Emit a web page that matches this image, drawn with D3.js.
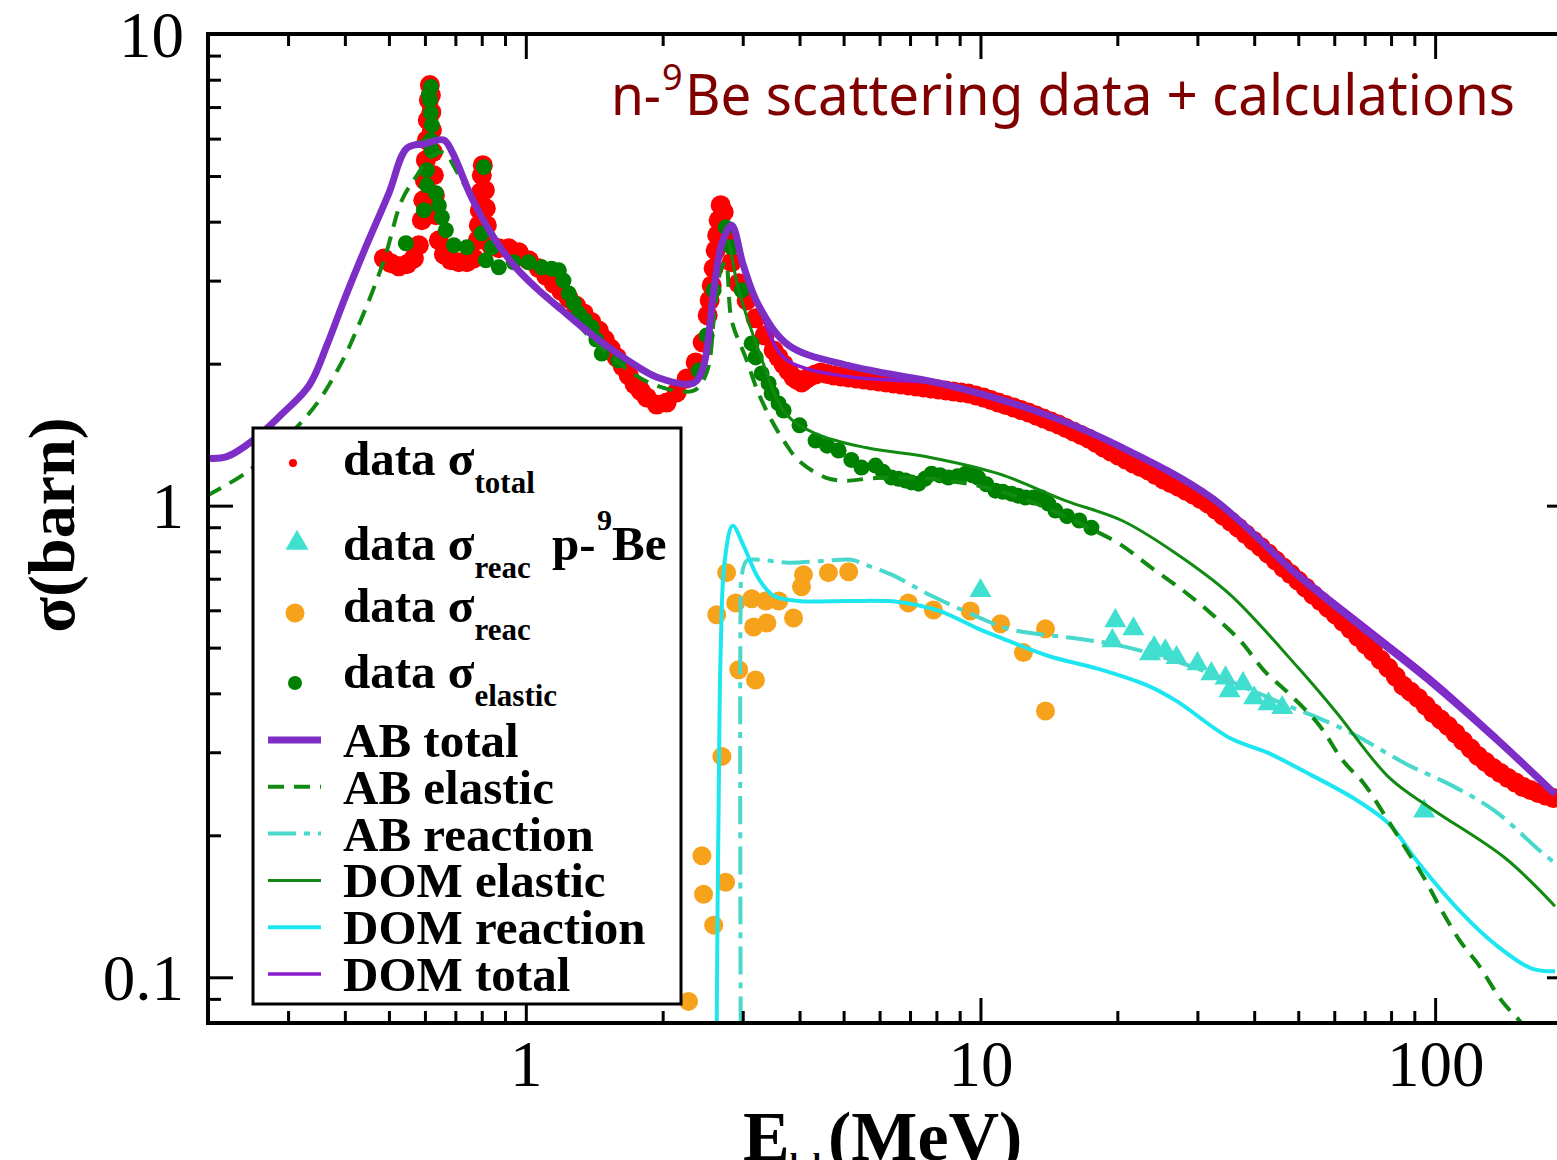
<!DOCTYPE html>
<html>
<head>
<meta charset="utf-8">
<script src="https://d3js.org/d3.v7.min.js"></script>
<style>
body { margin: 0; background: #fff; }
svg { display: block; }
text { font-family: "Liberation Serif", "Times New Roman", serif; }
.axis line { stroke: #000; stroke-width: 3; }
.axis text { font-size: 65px; fill: #000; }
</style>
</head>
<body>
<svg width="1557" height="1160"></svg>
<script>

// ---- data: [E (MeV), sigma (barn)] ----
var dataTotal = [[0.4875,3.344],[0.505,3.265],[0.5258,3.217],[0.5476,3.249],[0.5673,3.344],[0.5818,3.565],
  [0.5907,4.029],[0.5952,4.442],[0.5998,4.898],[0.6029,5.402],[0.6059,5.955],[0.609,6.566],[0.6121,7.242],
  [0.6152,7.795],[0.6183,7.423],[0.62,6.83],[0.6215,6.254],[0.6246,5.618],[0.6278,5.018],[0.631,4.553],
  [0.6342,4.128],[0.6439,3.653],[0.6603,3.411],[0.6841,3.313],[0.7122,3.281],[0.7417,3.281],[0.7686,3.344],
  [0.7843,3.653],[0.7883,3.93],[0.7923,4.23],[0.7963,4.619],[0.8003,5.018],[0.8044,5.272],[0.8126,4.665],
  [0.8167,4.272],[0.8209,3.93],[0.8378,3.565],[0.8724,3.513],[0.9176,3.513],[0.9652,3.445],[1.015,3.313],
  [1.068,3.186],[1.109,3.071],[1.152,2.96],[1.197,2.854],[1.243,2.751],[1.291,2.652],[1.341,2.556],
  [1.393,2.452],[1.447,2.352],[1.491,2.251],[1.537,2.154],[1.585,2.062],[1.634,1.973],[1.684,1.888],
  [1.736,1.807],[1.79,1.751],[1.845,1.696],[1.941,1.638],[2.041,1.654],[2.147,1.738],[2.259,1.86],[2.364,2.012],
  [2.449,2.218],[2.512,2.532],[2.537,2.724],[2.564,2.931],[2.589,3.186],[2.616,3.478],[2.636,3.743],
  [2.656,4.029],[2.683,4.336],[2.724,4.19],[2.765,3.743],[2.836,3.281],[2.938,2.96],[3.06,2.724],
  [3.203,2.495],[3.352,2.296],[3.509,2.133],[3.598,2.062],[3.69,1.993],[3.785,1.93],[3.882,1.869],
  [3.962,1.846],[4.043,1.824],[4.126,1.851],[4.21,1.878],[4.329,1.896],[4.451,1.915],[4.599,1.901],
  [4.753,1.888],[4.937,1.878],[5.128,1.869],[5.327,1.86],[5.533,1.851],[5.747,1.842],[5.969,1.834],
  [6.2,1.825],[6.439,1.816],[6.688,1.807],[6.947,1.798],[7.215,1.789],[7.494,1.781],[7.783,1.772],
  [8.084,1.763],[8.397,1.754],[8.723,1.746],[9.06,1.737],[9.41,1.729],[9.773,1.712],[10.15,1.696],
  [10.54,1.675],[10.95,1.654],[11.38,1.634],[11.82,1.615],[12.28,1.595],[12.75,1.576],[13.25,1.553],
  [13.76,1.53],[14.29,1.508],[14.84,1.486],[15.41,1.461],[16.01,1.436],[16.63,1.412],[17.28,1.388],
  [17.95,1.358],[18.64,1.328],[19.36,1.302],[20.11,1.277],[20.89,1.252],[21.7,1.228],[22.53,1.207],
  [23.4,1.187],[24.31,1.161],[25.25,1.136],[26.23,1.116],[27.24,1.097],[28.29,1.076],[29.39,1.055],
  [30.52,1.032],[31.7,1.01],[32.93,0.981],[34.2,0.952],[35.52,0.925],[36.9,0.898],[38.33,0.87],
  [39.81,0.843],[41.35,0.817],[42.95,0.791],[44.61,0.765],[46.34,0.739],[48.14,0.716],[50.0,0.693],
  [51.93,0.67],[53.94,0.647],[56.03,0.627],[58.2,0.607],[60.45,0.587],[62.79,0.567],[65.22,0.547],
  [67.74,0.527],[70.36,0.508],[73.08,0.49],[75.91,0.471],[78.85,0.453],[81.9,0.434],[85.06,0.415],
  [88.35,0.403],[91.77,0.391],[95.32,0.377],[99.0,0.363],[102.8,0.352],[106.8,0.341],[110.9,0.329],
  [115.2,0.317],[119.7,0.3055],[124.3,0.2945],[129.1,0.286],[134.1,0.2778],[139.3,0.271],[144.7,0.2645],
  [150.3,0.2587],[156.1,0.2531],[162.1,0.2495],[168.4,0.2459],[174.9,0.2429],[181.7,0.2399]];

var dataElastic = [[0.5448,3.6],[0.5968,4.23],[0.6059,4.776],[0.6059,5.143],[0.6183,5.955],[0.6183,6.797],
  [0.6183,7.719],[0.6121,7.423],[0.6152,7.242],[0.6215,6.409],[0.6215,5.66],[0.6342,4.597],[0.6439,4.33],
  [0.6537,4.088],[0.6671,3.836],[0.6948,3.565],[0.7417,3.53],[0.8003,3.78],[0.8085,5.219],[0.8167,3.313],
  [0.8418,3.53],[0.8724,3.201],[0.941,3.281],[1.015,3.281],[1.084,3.201],[1.14,3.18],[1.182,3.155],
  [1.21,3.0],[1.243,2.818],[1.275,2.69],[1.308,2.556],[1.35,2.47],[1.397,2.387],[1.43,2.25],[1.469,2.102],
  [1.6,2.032],[2.4,1.934],[2.499,2.296],[2.589,2.861],
  [2.751,3.892],[2.836,3.53],[2.984,2.861],[3.139,2.208],[3.203,2.062],[3.301,1.907],[3.42,1.816],
  [3.473,1.729],[3.597,1.647],[3.69,1.591],[4.0,1.48],[4.339,1.374],[4.6,1.34],[4.875,1.309],[5.2,1.25],
  [5.475,1.204],[5.877,1.216],[6.1,1.18],[6.374,1.147],[6.6,1.14],[6.842,1.13],[7.05,1.12],[7.307,1.113],
  [7.55,1.14],[7.804,1.169],[8.15,1.16],[8.5,1.147],[8.9,1.155],[9.27,1.169],[9.6,1.16],[9.88,1.147],
  [10.3,1.11],[10.79,1.076],[11.2,1.07],[11.7,1.06],[12.1,1.05],[12.56,1.04],[13.1,1.04],[13.62,1.04],
  [14.1,1.01],[14.62,0.976],[15.5,0.95],[16.5,0.93],[17.54,0.898]];

var dataReac = [[2.765,0.721],[2.63,0.587],[2.894,0.622],[3.14,0.635],[3.37,0.628],[3.6,0.628],[3.17,0.553],
  [3.39,0.564],[3.88,0.578],[4.08,0.714],[4.04,0.673],[4.63,0.721],[5.13,0.724],[2.94,0.449],[3.2,0.427],
  [2.7,0.294],[2.44,0.181],[2.75,0.159],[2.46,0.15],[2.59,0.129],[2.28,0.0889],[6.94,0.622],[7.88,0.601],
  [9.5,0.598],[11.07,0.562],[12.43,0.488],[13.9,0.548],[13.9,0.367]];

var dataReacP = [[10.0,0.66],[19.8,0.57],[21.7,0.548],[19.5,0.517],[24.1,0.4995],[23.6,0.485],[25.5,0.492],
  [27.0,0.476],[30.0,0.462],[32.2,0.44],[34.6,0.431],[35.3,0.405],[37.8,0.419],[40.0,0.391],[43.0,0.38],
  [46.1,0.373],[94.6,0.225]];

var abTotal = [[0.2,1.26],[0.22,1.27],[0.25,1.37],[0.29,1.56],[0.334,1.80],[0.366,2.2],[0.398,2.72],
  [0.44,3.45],[0.5,4.6],[0.548,5.73],[0.6,5.85],[0.66,5.96],[0.69,5.6],[0.76,4.5],[0.85,3.7],[0.95,3.2],
  [1.06,2.88],[1.2,2.6],[1.4,2.3],[1.68,2.03],[1.95,1.87],[2.34,1.82],[2.46,1.98],[2.59,2.86],[2.70,3.6],
  [2.836,3.93],[3.01,3.23],[3.25,2.66],[3.78,2.19],[5.13,1.98],[8.5,1.80],[14.1,1.553],[20.1,1.34],
  [32.2,1.04],[50.0,0.71],[70.2,0.545],[98.0,0.422],[137.5,0.317],[183.5,0.2446]];

var domTotal = [[0.2,1.26],[0.22,1.27],[0.25,1.37],[0.29,1.56],[0.334,1.80],[0.366,2.2],[0.398,2.72],
  [0.44,3.45],[0.5,4.6],[0.548,5.73],[0.6,5.85],[0.66,5.96],[0.69,5.6],[0.76,4.5],[0.85,3.7],[0.95,3.2],
  [1.06,2.88],[1.2,2.6],[1.4,2.3],[1.68,2.03],[1.95,1.87],[2.34,1.82],[2.46,1.98],[2.59,2.86],[2.70,3.6],
  [2.836,3.93],[3.01,3.23],[3.25,2.66],[3.653,2.082],[4.125,1.954],[5.31,1.869],[8.5,1.80],[14.1,1.553],
  [20.1,1.34],[32.2,1.045],[50.0,0.72],[70.2,0.556],[98.0,0.431],[137.5,0.322],[183.5,0.2475]];

var abElastic = [[0.199,1.05],[0.2461,1.187],[0.3336,1.568],[0.3882,1.963],[0.4362,2.507],[0.4875,3.313],
  [0.5339,4.442],[0.573,4.97],[0.62,5.5],[0.66,5.6],[0.7122,5.018],[0.7883,4.23],[0.8945,3.478],[1.0,3.034],
  [1.182,2.658],[1.447,2.186],[1.864,1.824],[2.34,1.754],[2.499,1.915],[2.603,2.594],[2.683,3.155],
  [2.751,3.281],[2.836,2.471],[3.044,2.062],[3.252,1.729],[3.473,1.515],[3.728,1.354],[3.981,1.246],
  [4.563,1.147],[5.05,1.13],[5.673,1.141],[6.602,1.147],[8.5,1.13],[10.95,1.076],[14.11,0.985],
  [17.28,0.898],[20.21,0.83],[23.76,0.739],[27.94,0.66],[32.2,0.59],[37.27,0.517],[42.1,0.4464],
  [47.77,0.399],[55.33,0.3445],[62.79,0.2874],[69.82,0.257],[76.46,0.2251],[83.34,0.1973],[94.6,0.1623],
  [103.6,0.138],[113.5,0.1193],[124.3,0.1066],[140.4,0.0889],[153.8,0.0806],[168.4,0.0714]];

var domElastic = [[0.2,1.26],[0.22,1.27],[0.25,1.37],[0.29,1.56],[0.334,1.80],[0.366,2.2],[0.398,2.72],
  [0.44,3.45],[0.5,4.6],[0.548,5.73],[0.66,5.96],[0.69,5.6],[0.76,4.5],[0.85,3.7],[0.95,3.2],[1.06,2.88],
  [1.2,2.6],[1.4,2.3],[1.68,2.03],[1.95,1.87],[2.34,1.82],[2.46,1.98],[2.59,2.86],[2.765,3.653],
  [2.938,2.861],[3.252,2.133],[3.728,1.568],[4.339,1.422],[5.588,1.328],[7.804,1.264],[10.95,1.169],
  [15.37,1.025],[20.52,0.929],[26.97,0.791],[35.27,0.65],[50.0,0.453],[60.29,0.367],[79.25,0.265],
  [98.0,0.228],[142.5,0.179],[183.5,0.1415]];

var abReaction = [[2.969,0.0795],[2.969,0.628],[2.984,0.71],[3.06,0.764],[3.252,0.768],[3.784,0.757],
  [4.563,0.764],[5.205,0.768],[5.588,0.749],[6.374,0.714],[7.804,0.644],[9.75,0.584],[11.52,0.548],
  [16.42,0.522],[19.5,0.509],[23.4,0.4875],[30.14,0.4508],[38.81,0.4088],[47.53,0.376],[55.33,0.3548],
  [66.04,0.328],[86.35,0.2833],[109.5,0.2543],[135.5,0.2251],[168.4,0.1869],[183.5,0.1746]];

var domReaction = [[2.63,0.0795],[2.642,0.145],[2.656,0.2364],[2.683,0.492],[2.738,0.764],[2.851,0.907],
  [3.014,0.822],[3.252,0.7],[3.509,0.644],[3.981,0.628],[5.128,0.628],[6.602,0.625],[8.084,0.599],
  [9.9,0.548],[10.95,0.527],[14.11,0.48],[18.17,0.4508],[23.4,0.415],[26.97,0.3855],[35.27,0.322],
  [42.95,0.299],[50.5,0.276],[66.04,0.2399],[79.25,0.2113],[91.3,0.1763],[113.5,0.138],[135.5,0.1175],
  [162.6,0.1045],[183.5,0.103]];

var xTickLabels = [1, 10, 100];
var yTickLabels = [0.1, 1, 10];
var legendLabels = ["AB total", "AB elastic", "AB reaction", "DOM elastic", "DOM reaction", "DOM total"];

// ---- chart ----
var svg = d3.select("svg"),
    margin = {left: 208, right: 1572, top: 34, bottom: 1023};

var x = d3.scaleLog().domain([0.2, 200]).range([margin.left, margin.right]);
var y = d3.scaleLog().domain([0.08, 10]).range([margin.bottom, margin.top]);

svg.append("defs").append("clipPath").attr("id", "plotclip")
  .append("rect")
    .attr("x", margin.left).attr("y", margin.top)
    .attr("width", margin.right - margin.left)
    .attr("height", margin.bottom - margin.top);

var plot = svg.append("g").attr("clip-path", "url(#plotclip)");

// data points
plot.selectAll(".ptot").data(dataTotal).enter().append("circle")
  .attr("cx", d => x(d[0])).attr("cy", d => y(d[1])).attr("r", 10).attr("fill", "#ff0000");

plot.selectAll(".pel").data(dataElastic).enter().append("circle")
  .attr("cx", d => x(d[0])).attr("cy", d => y(d[1])).attr("r", 8).attr("fill", "#008000");

plot.selectAll(".preac").data(dataReac).enter().append("circle")
  .attr("cx", d => x(d[0])).attr("cy", d => y(d[1])).attr("r", 9.5).attr("fill", "#f7a21b");

plot.selectAll(".preacp").data(dataReacP).enter().append("path")
  .attr("transform", d => "translate(" + x(d[0]) + "," + y(d[1]) + ")")
  .attr("d", d3.symbol().type(d3.symbolTriangle).size(210))
  .attr("fill", "#40e0d0");

// curves
var line = d3.line()
  .x(d => x(d[0]))
  .y(d => y(d[1]))
  .curve(d3.curveCatmullRom.alpha(0.5));

var curves = [
  {data: abReaction, color: "#48d8cc", width: 4, dash: "28,8,6,8"},
  {data: domReaction, color: "#1ee6f0", width: 4, dash: null},
  {data: abElastic, color: "#108a10", width: 4, dash: "16,10"},
  {data: domElastic, color: "#108a10", width: 3, dash: null},
  {data: domTotal, color: "#8a1ad0", width: 3.5, dash: null},
  {data: abTotal, color: "#7d2ec6", width: 7, dash: null}
];

curves.forEach(function(c) {
  plot.append("path")
    .datum(c.data)
    .attr("d", line)
    .attr("fill", "none")
    .attr("stroke", c.color)
    .attr("stroke-width", c.width)
    .attr("stroke-dasharray", c.dash);
});

// axes
function isMajor(d) {
  var l = Math.log10(d);
  return Math.abs(l - Math.round(l)) < 1e-6;
}

var xt = x.ticks(), yt = y.ticks();

var gB = svg.append("g").attr("class", "axis")
  .attr("transform", "translate(0," + margin.bottom + ")")
  .call(d3.axisBottom(x).tickValues(xt).tickSizeInner(-12).tickSizeOuter(0)
    .tickFormat(d => xTickLabels.indexOf(d) >= 0 ? d : ""));
gB.select(".domain").remove();
gB.selectAll(".tick line").attr("y2", d => isMajor(d) ? -25 : -12);
gB.selectAll(".tick text").attr("y", 17).attr("dy", "0.71em");

var gT = svg.append("g").attr("class", "axis")
  .attr("transform", "translate(0," + margin.top + ")")
  .call(d3.axisTop(x).tickValues(xt).tickSizeInner(-12).tickSizeOuter(0).tickFormat(""));
gT.select(".domain").remove();
gT.selectAll(".tick line").attr("y2", d => isMajor(d) ? 25 : 12);

var gL = svg.append("g").attr("class", "axis")
  .attr("transform", "translate(" + margin.left + ",0)")
  .call(d3.axisLeft(y).tickValues(yt).tickSizeInner(-13).tickSizeOuter(0)
    .tickFormat(d => yTickLabels.indexOf(d) >= 0 ? d : ""));
gL.select(".domain").remove();
gL.selectAll(".tick line").attr("x2", d => isMajor(d) ? 25 : 13);
gL.selectAll(".tick text").attr("x", -24).attr("dy", "0.34em");

var gR = svg.append("g").attr("class", "axis")
  .attr("transform", "translate(" + margin.right + ",0)")
  .call(d3.axisRight(y).tickValues(yt).tickSizeInner(-13).tickSizeOuter(0).tickFormat(""));
gR.select(".domain").remove();
gR.selectAll(".tick line").attr("x2", d => isMajor(d) ? -25 : -13);

svg.append("rect")
  .attr("x", margin.left).attr("y", margin.top)
  .attr("width", margin.right - margin.left).attr("height", margin.bottom - margin.top)
  .attr("fill", "none").attr("stroke", "#000").attr("stroke-width", 4);

// axis titles
svg.append("text")
  .attr("transform", "translate(74,525) rotate(-90)")
  .attr("text-anchor", "middle")
  .style("font-size", "66px").style("font-weight", "bold")
  .text("σ(barn)");

var xt1 = svg.append("text").attr("x", 743).attr("y", 1160)
  .style("font-size", "70px").style("font-weight", "bold");
xt1.append("tspan").text("E");
xt1.append("tspan").attr("dy", 14).style("font-size", "30px").text("lab");
xt1.append("tspan").attr("x", 828).attr("dy", -14).text("(MeV)");

// annotation
var annFont = "'Noto Sans', 'Open Sans', sans-serif";
var ann = svg.append("g").attr("fill", "#800000");
ann.append("text").attr("x", 611).attr("y", 115)
  .style("font-family", annFont).style("font-size", "56px")
  .attr("textLength", 50).attr("lengthAdjust", "spacingAndGlyphs").text("n-");
ann.append("text").attr("x", 662).attr("y", 90)
  .style("font-family", annFont).style("font-size", "36px").text("9");
ann.append("text").attr("x", 685).attr("y", 115)
  .style("font-family", annFont).style("font-size", "56px")
  .attr("textLength", 830).attr("lengthAdjust", "spacingAndGlyphs")
  .text("Be scattering data + calculations");

// legend
var leg = svg.append("g");
leg.append("rect").attr("x", 253).attr("y", 428).attr("width", 428).attr("height", 576)
  .attr("fill", "#fff").attr("stroke", "#000").attr("stroke-width", 3);

leg.append("circle").attr("cx", 293).attr("cy", 463).attr("r", 4).attr("fill", "#ff0000");
leg.append("path").attr("transform", "translate(297,543)")
  .attr("d", d3.symbol().type(d3.symbolTriangle).size(230)).attr("fill", "#40e0d0");
leg.append("circle").attr("cx", 295).attr("cy", 613).attr("r", 9.5).attr("fill", "#f7a21b");
leg.append("circle").attr("cx", 295).attr("cy", 683).attr("r", 7).attr("fill", "#008000");

function dataRow(yb, sub) {
  var t = leg.append("text").attr("x", 343).attr("y", yb)
    .style("font-size", "49px").style("font-weight", "bold");
  t.append("tspan").text("data σ");
  t.append("tspan").attr("dy", 18).style("font-size", "31px").text(sub);
  return t;
}
dataRow(475, "total");
var r2 = dataRow(560, "reac");
r2.append("tspan").attr("x", 552).attr("dy", -18).text("p-");
r2.append("tspan").attr("x", 597).attr("dy", -30).style("font-size", "30px").text("9");
r2.append("tspan").attr("x", 612).attr("dy", 30).text("Be");
dataRow(622, "reac");
dataRow(688, "elastic");

var legendLines = [curves[5], curves[2], curves[0], curves[3], curves[1], curves[4]];
legendLabels.forEach(function(lab, i) {
  var yc = 740 + i * 46.8;
  var c = legendLines[i];
  leg.append("line").attr("x1", 268).attr("x2", 321).attr("y1", yc).attr("y2", yc)
    .attr("stroke", c.color).attr("stroke-width", c.width)
    .attr("stroke-dasharray", c.dash);
  leg.append("text").attr("x", 343).attr("y", yc + 17)
    .style("font-size", "49px").style("font-weight", "bold").text(lab);
});

</script>
</body>
</html>
